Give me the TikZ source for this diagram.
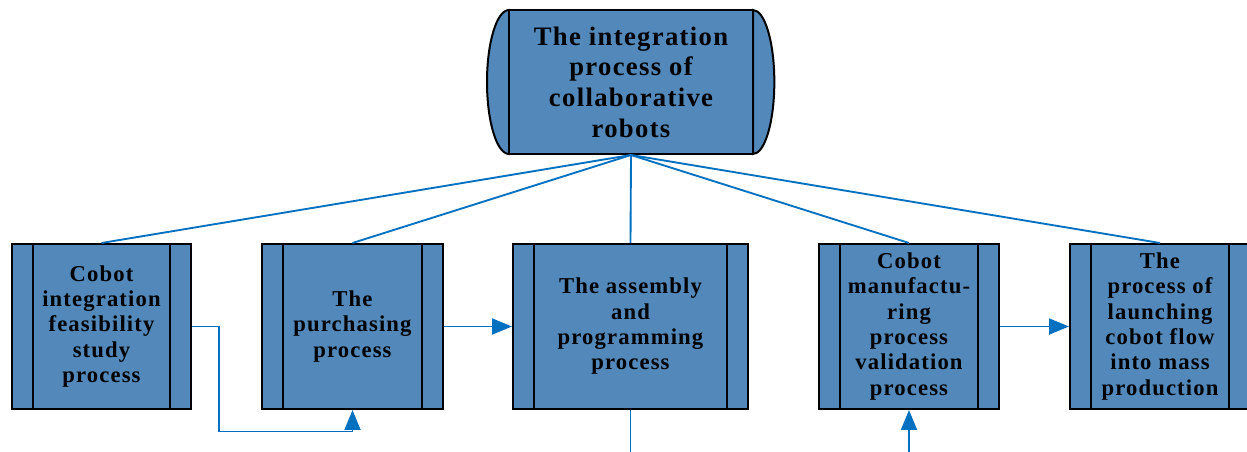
\documentclass[tikz,border=0pt]{standalone}
\usepackage{fontspec}
\setmainfont{Liberation Serif}[LetterSpace=5]
\usetikzlibrary{arrows.meta,calc}
\definecolor{boxfill}{RGB}{82,137,186}
\definecolor{linkblue}{RGB}{0,112,192}
\begin{document}
\begin{tikzpicture}[x=0.75pt,y=-0.75pt,
  proc/.style={draw=black, line width=1.5pt, fill=boxfill, inner sep=0pt, align=center,
    minimum height=123.75pt, font=\fontsize{17}{19}\selectfont\bfseries},
  topbox/.style={draw=black, line width=1.5pt, fill=boxfill, inner sep=0pt, align=center,
    minimum width=183pt, minimum height=108pt, font=\fontsize{20}{23}\selectfont\bfseries},
  capline/.style={draw=black, line width=1.5pt, fill=boxfill},
  link/.style={draw=linkblue, line width=1.4pt},
  arr/.style={link, -{Triangle[length=15pt, width=12pt]}}]
\useasboundingbox (0,0) rectangle (1247,452);

% top node with rounded end caps
\filldraw[capline] (509,10) arc[start angle=90, end angle=270, x radius=16.5pt, y radius=54pt] -- cycle;
\filldraw[capline] (753,154) arc[start angle=-90, end angle=90, x radius=16pt, y radius=54pt] -- cycle;
\node[topbox] (top) at (631,82) {The integration\\process of\\collaborative\\robots};

% process boxes
\node[proc, minimum width=134.25pt] (b1) at (101.5,326.5) {Cobot\\integration\\feasibility\\study\\process};
\node[proc, minimum width=135.75pt] (b2) at (352.5,326.5) {The\\purchasing\\process};
\node[proc, minimum width=176.25pt] (b3) at (630.5,326.5) {The assembly\\and\\programming\\process};
\node[proc, minimum width=135pt] (b4) at (909,326.5) {Cobot\\manufactu-\\ring\\process\\validation\\process};
\node[proc, minimum width=135pt] (b5) at (1160,326.5) {The\\process of\\launching\\cobot flow\\into mass\\production};

\foreach \n in {b1,b2,b3,b4,b5}{
  \draw[black, line width=1.5pt] ([xshift=16.5pt]\n.north west) -- ([xshift=16.5pt]\n.south west)
    ([xshift=-16.5pt]\n.north east) -- ([xshift=-16.5pt]\n.south east);
}

% tree connectors
\foreach \n in {b1,b2,b3,b4,b5}{
  \draw[link] (top.south) -- (\n.north);
}

% flow arrows
\draw[arr] (b1.east) -- ++(27,0) -- ++(0,105) -| (b2.south);
\draw[arr] (b2.east) -- (b3.west);
\draw[arr] (b4.east) -- (b5.west);
\coordinate (b3out) at ($(b3.south)+(0,48)$);
\draw[link] (b3.south) -- (b3out);
\coordinate (b4in) at ($(b4.south)+(0,48)$);
\draw[arr] (b4in) -- (b4.south);
\end{tikzpicture}
\end{document}
